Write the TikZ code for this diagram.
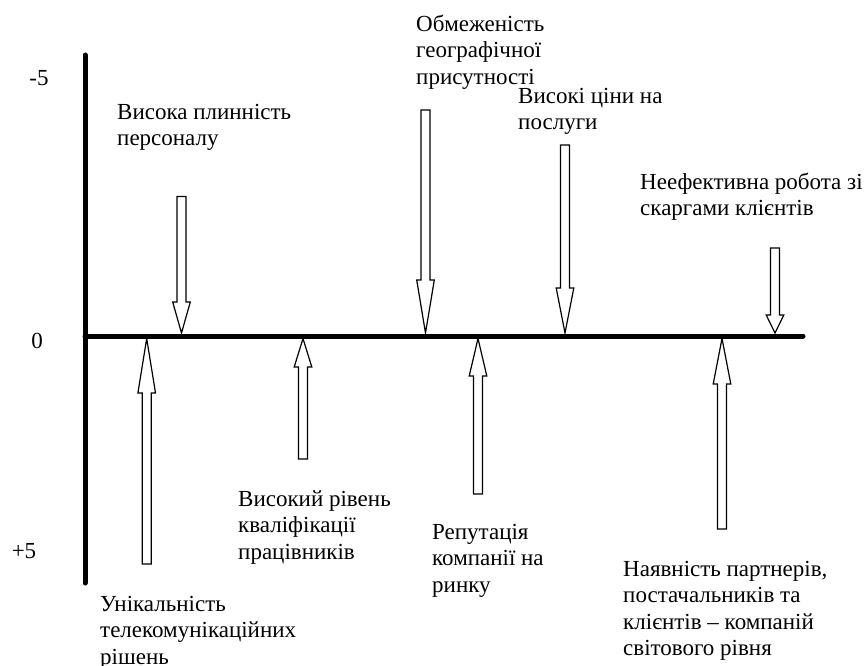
\documentclass[tikz,border=0pt]{standalone}
\usepackage{fontspec}
\setmainfont{Liberation Serif}
\begin{document}
\begin{tikzpicture}[x=1pt,y=-1pt,
  axis/.style={line width=5pt,line cap=round},
  barrow/.style={draw=black,line width=1.2pt,fill=white,line join=miter},
  lbl/.style={anchor=north west,inner sep=0pt,align=left,font=\fontsize{23}{26.5}\selectfont},
  num/.style={inner sep=0pt,font=\fontsize{23}{26.5}\selectfont}]
\useasboundingbox (0,0) rectangle (867,666);
% axes
\coordinate (vtop) at (85,55);
\coordinate (vbot) at (85,583);
\coordinate (hleft) at (85,336);
\coordinate (hright) at (803,336);
\draw[axis] (vtop) -- (vbot);
\draw[axis] (hleft) -- (hright);
% scale labels
\node[num] (m5) at (39,78) {-5};
\node[num] (z0) at (37,341) {0};
\node[num] (p5) at (24,551) {+5};
% block arrows: x, tail y, head base y, tip y
\newcommand{\blockarr}[4]{%
  \draw[barrow] (#1-4.5,#2) -- (#1+4.5,#2) -- (#1+4.5,#3) -- (#1+8.8,#3) -- (#1,#4) -- (#1-8.8,#3) -- (#1-4.5,#3) -- cycle;}
% downward (negative factors)
\blockarr{181.5}{196.5}{302}{333}
\blockarr{425.5}{110}{280}{333}
\blockarr{565}{145}{288}{333}
\blockarr{775}{248}{315}{333}
% upward (positive factors)
\blockarr{146.7}{564}{393}{338.5}
\blockarr{303}{459}{367}{338.5}
\blockarr{478}{494}{376}{338.5}
\blockarr{722}{529}{384}{338.5}
% labels
\node[lbl] (t1) at (117,100.5) {\strut Висока плинність\\персоналу};
\node[lbl] (t2) at (416,12.5) {\strut Обмеженість\\географічної\\присутності};
\node[lbl] (t3) at (518,84.5) {\strut Високі ціни на\\послуги};
\node[lbl] (t4) at (640,170.5) {\strut Неефективна робота зі\\скаргами клієнтів};
\node[lbl] (b1) at (100,592.5) {\strut Унікальність\\телекомунікаційних\\рішень};
\node[lbl] (b2) at (238,487.5) {\strut Високий рівень\\кваліфікації\\працівників};
\node[lbl] (b3) at (432,520.5) {\strut Репутація\\компанії на\\ринку};
\node[lbl] (b4) at (623,557.5) {\strut Наявність партнерів,\\постачальників та\\клієнтів – компаній\\світового рівня};
\end{tikzpicture}
\end{document}
